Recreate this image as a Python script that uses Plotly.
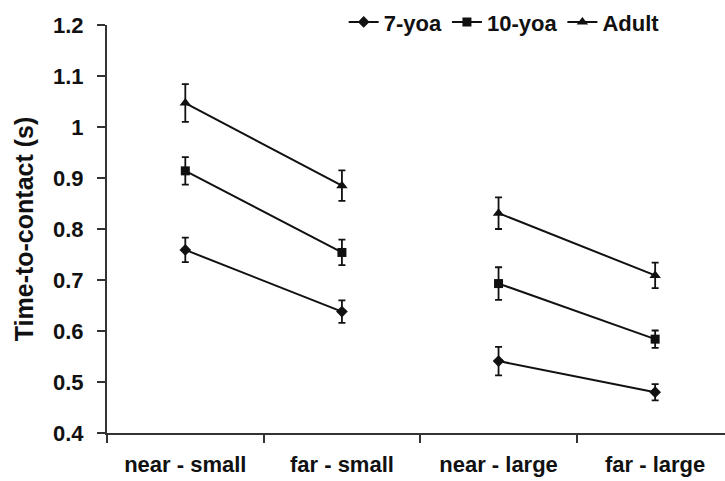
import plotly.graph_objects as go

categories = ["near - small", "far - small", "near - large", "far - large"]
series_names = ["7-yoa", "10-yoa", "Adult"]
seven = [0.759, 0.638, 0.541, 0.480]
seven_err = [0.024, 0.022, 0.028, 0.016]
ten = [0.914, 0.754, 0.693, 0.584]
ten_err = [0.027, 0.025, 0.032, 0.017]
adult = [1.047, 0.885, 0.831, 0.709]
adult_err = [0.037, 0.030, 0.031, 0.025]

symbols = ["diamond", "square", "triangle-up"]
sizes = [9, 9, 10]
ink = "#111111"
font_family = "Liberation Sans, Arial, sans-serif"

fig = go.Figure()

def broken(vals):
    # connect near->far within each size group only
    return [vals[0], vals[1], None, vals[2], vals[3]]

xs = [categories[0], categories[1], None, categories[2], categories[3]]

for name, vals, errs, sym, sz in zip(series_names, [seven, ten, adult],
                                     [seven_err, ten_err, adult_err], symbols, sizes):
    fig.add_trace(go.Scatter(
        x=xs, y=broken(vals), name=name, mode="lines+markers",
        connectgaps=False,
        line=dict(color=ink, width=2),
        marker=dict(symbol=sym, size=sz, color=ink, line=dict(width=0)),
        error_y=dict(type="data", array=broken(errs), visible=True,
                     color=ink, thickness=1.8, width=3.5),
    ))

fig.update_layout(
    width=725, height=481,
    margin=dict(l=107, r=0, t=25, b=48),
    paper_bgcolor="white", plot_bgcolor="white",
    font=dict(family=font_family, size=21, color=ink, weight="bold"),
    showlegend=True,
    legend=dict(orientation="h", x=0.383, xanchor="left", y=1.007, yanchor="middle",
                font=dict(size=22, family=font_family, weight="bold"),
                itemwidth=30, bgcolor="rgba(0,0,0,0)", tracegroupgap=0,
                traceorder="normal"),
)

fig.update_xaxes(
    type="category", categoryorder="array", categoryarray=categories,
    range=[-0.5, 3.446], showline=True, linecolor="#333333", linewidth=2,
    ticks="outside", tickson="boundaries", ticklen=8, tickwidth=2, tickcolor="#333333",
    showgrid=False, zeroline=False, ticklabelstandoff=11,
    tickfont=dict(size=22, family=font_family, weight="bold"),
)
fig.update_yaxes(
    range=[0.4, 1.2], dtick=0.1, tick0=0.4, showline=True, linecolor="#333333", linewidth=2,
    ticks="outside", ticklen=8, tickwidth=2, tickcolor="#333333",
    showgrid=False, zeroline=False, ticklabelstandoff=9,
    tickfont=dict(size=22, family=font_family, weight="bold"),
    title=dict(text="Time-to-contact (s)", standoff=12,
               font=dict(size=25, family=font_family, weight="bold")),
)

fig.write_html("out.html")
